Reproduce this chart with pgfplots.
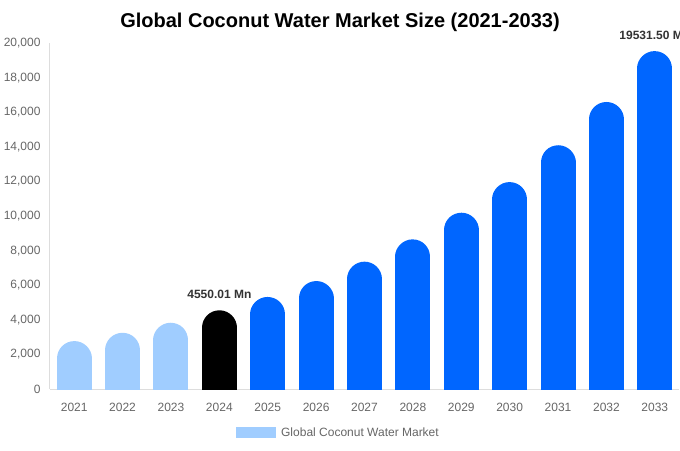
\documentclass[border=0pt]{standalone}
\usepackage{pgfplots}
\pgfplotsset{compat=1.18}
\usepackage{fontspec}
\setmainfont{Liberation Sans}

\definecolor{lightbar}{HTML}{A0CDFF}
\definecolor{mainbar}{HTML}{0066FF}
\definecolor{axisgray}{HTML}{DDDDDD}
\definecolor{tickgray}{HTML}{666666}
\definecolor{labelgray}{HTML}{333333}

\begin{document}
\begin{tikzpicture}
\useasboundingbox (0pt,0pt) rectangle (680pt,450pt);
\clip (0pt,0pt) rectangle (680pt,450pt);
\begin{axis}[
  at={(50pt,61pt)}, anchor=south west,
  scale only axis,
  width=629pt, height=346pt,
  xmin=-0.5, xmax=12.5,
  ymin=0, ymax=20000,
  axis x line*=bottom, axis y line*=left,
  axis line style={axisgray, line width=1pt},
  major tick length=0pt,
  xtick={0,...,12},
  xticklabels={2021,2022,2023,2024,2025,2026,2027,2028,2029,2030,2031,2032,2033},
  ytick={0,2000,...,20000},
  scaled y ticks=false,
  /pgf/number format/.cd, 1000 sep={,}, assume math mode=true,
  /pgfplots/.cd,
  xticklabel style={font=\fontsize{12}{14}\selectfont, text=tickgray, yshift=-11pt},
  yticklabel style={font=\fontsize{12}{14}\selectfont, text=tickgray, xshift=-6pt},
  legend style={at={(0.461,-0.127)}, anchor=center, draw=none,
    font=\fontsize{12}{14}\selectfont, text=tickgray,
    nodes={inner xsep=5pt}},
]
\addlegendimage{legend image code/.code={\fill[lightbar, draw=none] (0pt,-5.5pt) rectangle (40pt,5.5pt);}}
% 2021-2023
\addplot[ycomb, mark=none, lightbar, line width=35pt, line cap=round, yshift=-17.5pt]
  coordinates {(0,2770) (1,3250) (2,3830)};
% 2024
\addplot[ycomb, mark=none, black, line width=35pt, line cap=round, yshift=-17.5pt]
  coordinates {(3,4550.01)};
% 2025-2033
\addplot[ycomb, mark=none, mainbar, line width=35pt, line cap=round, yshift=-17.5pt]
  coordinates {(4,5320) (5,6240) (6,7360) (7,8650) (8,10190) (9,11960) (10,14090) (11,16590) (12,19531.5)};
% value labels
\addplot[draw=none, mark=none, nodes near coords, point meta=explicit symbolic,
  every node near coord/.append style={font=\bfseries\fontsize{12}{14}\selectfont,
    text=labelgray, anchor=center, yshift=16pt}]
  coordinates {(3,4550.01) [4550.01 Mn] (12,19531.5) [19531.50 Mn]};
\legend{Global Coconut Water Market}
\end{axis}
\node[font=\bfseries\fontsize{20}{24}\selectfont, text=black] at (340pt,428pt)
  {Global Coconut Water Market Size (2021-2033)};
\end{tikzpicture}
\end{document}
